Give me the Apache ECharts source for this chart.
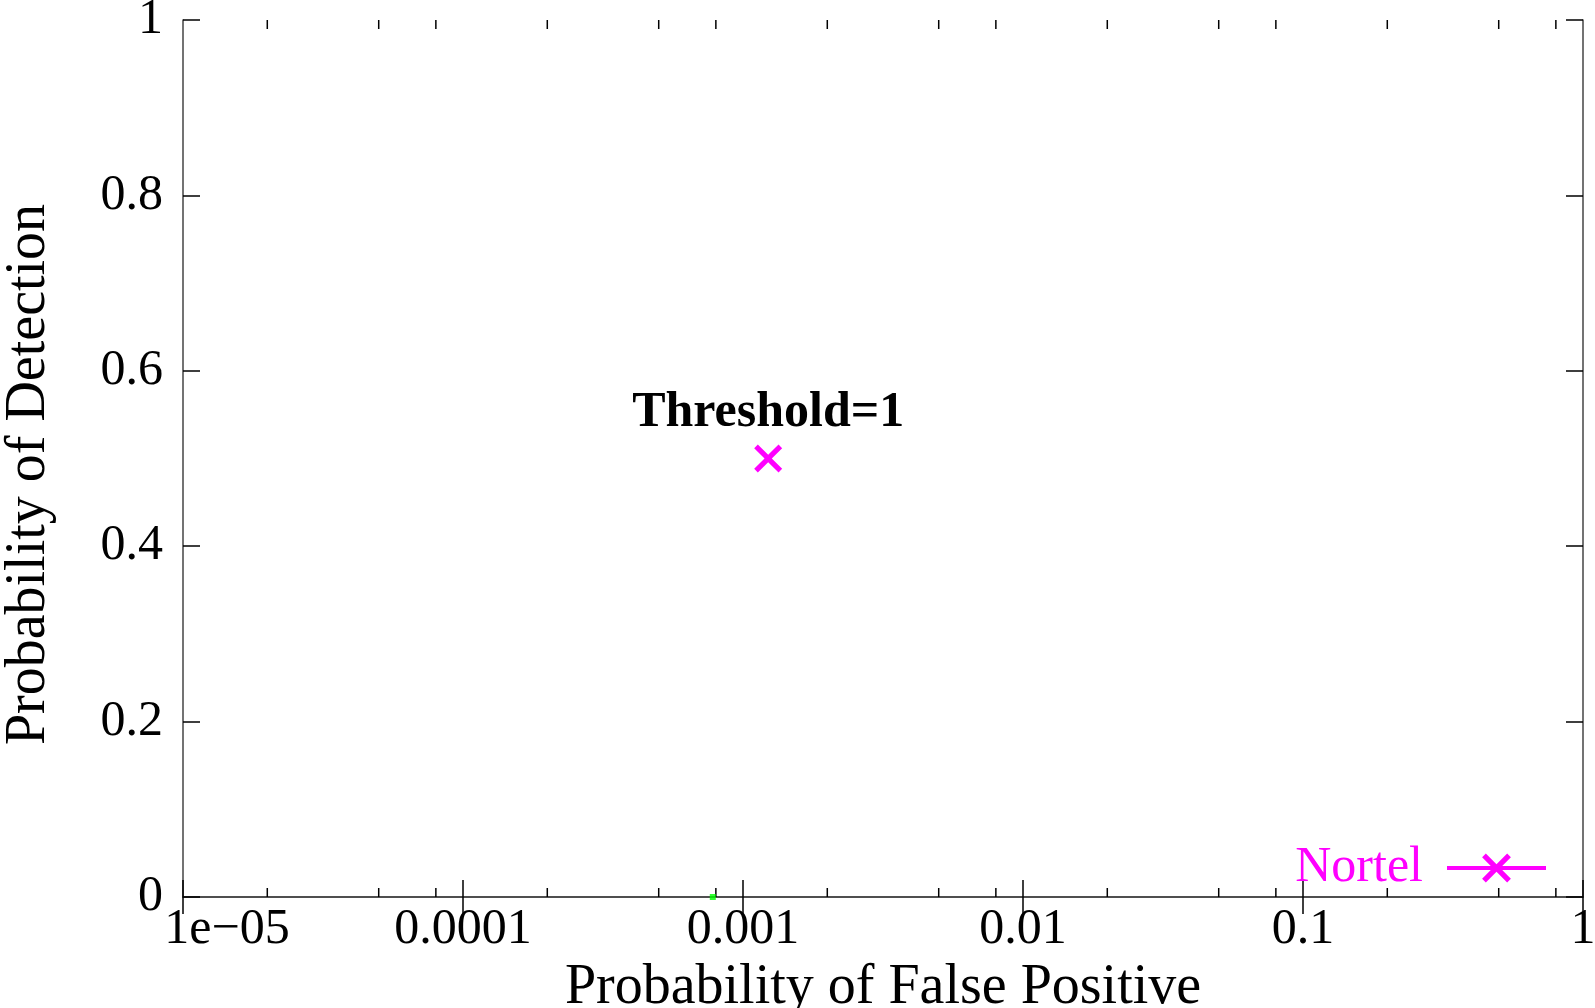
<!DOCTYPE html>
<html>
<head>
<meta charset="utf-8">
<script src="https://cdn.jsdelivr.net/npm/echarts@6/dist/echarts.min.js"></script>
<style>
html,body{margin:0;padding:0;background:#fff;}
#chart{width:1595px;height:1008px;}
</style>
</head>
<body>
<div id="chart"></div>
<script>
// ---- data ----
const seriesNames = ['Nortel'];
const nortelX = [0.00123];
const nortelY = [0.5];
const nortelLabels = ['Threshold=1'];
const greenX = [0.00078];
const greenY = [0];
const xTickLabels = ['1e\u221205', '0.0001', '0.001', '0.01', '0.1', '1'];
const yTickLabels = ['0', '0.2', '0.4', '0.6', '0.8', '1'];
const xMinorMultipliers = [2, 5, 8];
const xDecades = [1e-5, 1e-4, 1e-3, 1e-2, 1e-1];

const FONT = "'Liberation Serif', 'Times New Roman', serif";
const minorTicks = [];
xDecades.forEach(d => xMinorMultipliers.forEach(m => minorTicks.push([d * m, 0])));

const crossPath = 'path://M0,13 L13,0 L50,37 L87,0 L100,13 L63,50 L100,87 L87,100 L50,63 L13,100 L0,87 L37,50 Z';

const chart = echarts.init(document.getElementById('chart'), null, {renderer: 'canvas'});

const axisLineStyle = {color: '#444', width: 1.5};
const tickStyle = {color: '#000', width: 1.5};

const option = {
  backgroundColor: '#fff',
  animation: false,
  grid: {left: 183, right: 12, top: 20, bottom: 111, containLabel: false, outerBoundsMode: 'none'},
  legend: {
    data: seriesNames,
    right: 42,
    top: 838,
    align: 'right',
    itemWidth: 99,
    itemHeight: 36,
    selectedMode: false,
    lineStyle: {width: 4, color: '#ff00ff'},
    textStyle: {color: '#ff00ff', fontSize: 50, fontFamily: FONT, padding: [0, 19, 0, 0]}
  },
  xAxis: [{
    type: 'log', logBase: 10, min: 1e-5, max: 1, position: 'bottom',
    name: 'Probability of False Positive', nameLocation: 'middle', nameGap: 55,
    nameTextStyle: {fontSize: 56, fontFamily: FONT, color: '#000'},
    axisLine: {show: true, lineStyle: axisLineStyle},
    axisTick: {show: true, inside: true, length: 17, lineStyle: tickStyle},
    splitLine: {show: false},
    axisLabel: {
      show: true, margin: 8, fontSize: 50, fontFamily: FONT, color: '#000',
      showMinLabel: true, showMaxLabel: true,
      formatter: v => {
        const i = Math.round(Math.log10(v)) + 5;
        return i === 0 ? '{first|' + xTickLabels[i] + '}' : xTickLabels[i];
      },
      rich: {
        first: {fontSize: 50, fontFamily: FONT, color: '#000', padding: [0, 0, 0, 88]}
      }
    }
  }, {
    type: 'log', logBase: 10, min: 1e-5, max: 1, position: 'top',
    axisLine: {show: true, lineStyle: axisLineStyle},
    axisTick: {show: true, inside: true, length: 17, lineStyle: tickStyle},
    splitLine: {show: false},
    axisLabel: {show: false}
  }],
  yAxis: [{
    type: 'value', min: 0, max: 1, interval: 0.2, position: 'left',
    name: 'Probability of Detection', nameLocation: 'middle', nameGap: 126,
    nameTextStyle: {fontSize: 56, fontFamily: FONT, color: '#000', padding: [0, 32, 0, 0]},
    axisLine: {show: true, lineStyle: axisLineStyle},
    axisTick: {show: true, inside: true, length: 17, lineStyle: tickStyle},
    splitLine: {show: false},
    axisLabel: {
      show: true, margin: 20, fontSize: 50, fontFamily: FONT, color: '#000',
      formatter: v => yTickLabels[Math.round(v * 5)]
    }
  }, {
    type: 'value', min: 0, max: 1, interval: 0.2, position: 'right',
    axisLine: {show: true, lineStyle: axisLineStyle},
    axisTick: {show: true, inside: true, length: 17, lineStyle: tickStyle},
    splitLine: {show: false},
    axisLabel: {show: false}
  }],
  series: [{
    name: 'Nortel',
    type: 'line',
    xAxisIndex: 0, yAxisIndex: 0,
    data: nortelX.map((x, i) => [x, nortelY[i]]),
    symbol: crossPath,
    symbolSize: 28,
    color: '#ff00ff',
    itemStyle: {color: '#ff00ff'},
    lineStyle: {color: '#ff00ff', width: 4},
    label: {
      show: true, position: 'top', distance: 6,
      formatter: p => nortelLabels[p.dataIndex],
      fontSize: 50, fontWeight: 'bold', fontFamily: FONT, color: '#000'
    },
    z: 5
  }, {
    name: 'green',
    type: 'scatter',
    xAxisIndex: 0, yAxisIndex: 0,
    data: greenX.map((x, i) => [x, greenY[i]]),
    symbol: 'rect',
    symbolSize: 6,
    clip: false,
    itemStyle: {color: '#00ff00'},
    z: 6
  }, {
    name: 'minorTicks',
    type: 'custom',
    xAxisIndex: 0, yAxisIndex: 0,
    silent: true,
    clip: false,
    data: minorTicks,
    renderItem: function (params, api) {
      const cs = params.coordSys;
      const x = api.coord([api.value(0), 0])[0];
      const yb = cs.y + cs.height;
      const yt = cs.y;
      return {
        type: 'group',
        children: [
          {type: 'line', shape: {x1: x, y1: yb, x2: x, y2: yb - 9}, style: {stroke: '#000', lineWidth: 1.5}},
          {type: 'line', shape: {x1: x, y1: yt, x2: x, y2: yt + 9}, style: {stroke: '#000', lineWidth: 1.5}}
        ]
      };
    },
    z: 3
  }]
};
chart.setOption(option);
</script>
</body>
</html>
